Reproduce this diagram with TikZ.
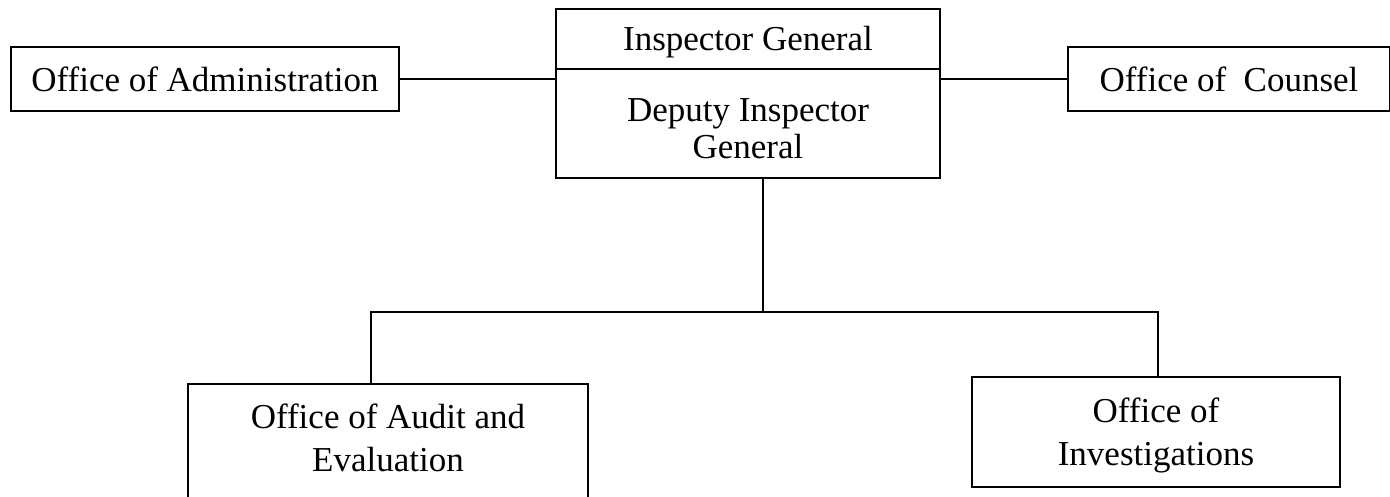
\documentclass[tikz,border=0pt]{standalone}
\usepackage{fontspec}
\setmainfont{Liberation Serif}
\begin{document}
\begin{tikzpicture}[x=1pt,y=-1pt,line width=2pt,
  box/.style={draw,line width=2pt,inner sep=0pt,anchor=north west,align=center,
    font=\fontsize{35}{37}\selectfont},
  tall/.style={font=\fontsize{35}{43}\selectfont}]
\useasboundingbox (0,0) rectangle (1390,496);
\node[box,minimum width=388pt,minimum height=64pt] (admin) at (10,46) {Office of Administration};
\node[box,minimum width=384pt,minimum height=60pt] (ig) at (555,8) {\rule{0pt}{30pt}Inspector General};
\node[box,minimum width=384pt,minimum height=109pt] (dig) at (555,68) {\rule{0pt}{34pt}Deputy Inspector\\General};
\node[box,minimum width=322pt,minimum height=64pt] (counsel) at (1067,46) {Office of\ \ Counsel};
\node[box,tall,minimum width=400pt,minimum height=115pt] (audit) at (187,383) {Office of Audit and\\Evaluation\rule[-8pt]{0pt}{0pt}};
\node[box,tall,minimum width=368pt,minimum height=110pt] (inv) at (971,376) {\rule{0pt}{32pt}Office of\\Investigations};
\coordinate (top) at (763,177);
\coordinate (bus) at (763,312);
\coordinate (busl) at (371,312);
\coordinate (busr) at (1158,312);
\draw (admin.east) -- (dig.west |- admin.east);
\draw (dig.east |- counsel.west) -- (counsel.west);
\draw (top) -- (bus);
\draw (busl |- audit.north) -- (busl) -- (busr) -- (busr |- inv.north);
\end{tikzpicture}
\end{document}
